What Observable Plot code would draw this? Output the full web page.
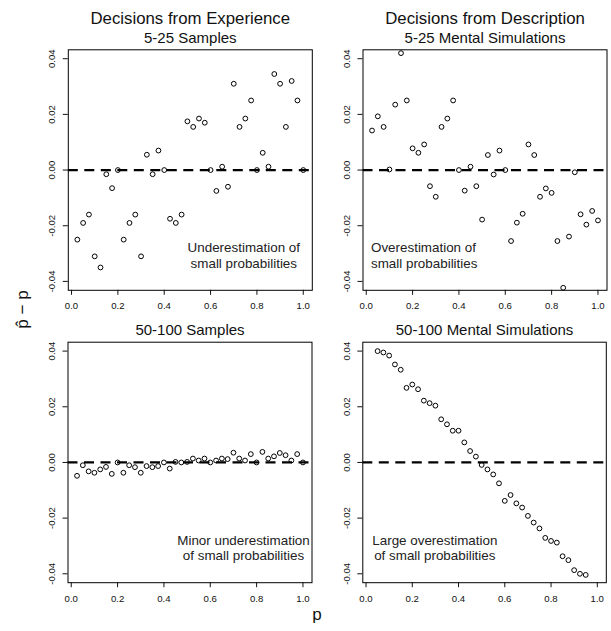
<!DOCTYPE html>
<html><head><meta charset="utf-8">
<script src="https://cdn.jsdelivr.net/npm/d3@7"></script>
<script src="https://cdn.jsdelivr.net/npm/@observablehq/plot@0.6"></script>
<style>
body{margin:0;background:#fff;}
#chart{position:relative;width:611px;height:631px;font-family:"Liberation Sans",Arial,sans-serif;color:#111;overflow:hidden;}
.panel{position:absolute;}
.panel svg{overflow:visible;}
.lab{position:absolute;font-size:17px;line-height:17px;height:17px;text-align:center;white-space:nowrap;}
</style></head><body><div id="chart"></div>
<script>
// probabilities (x values)
const pAll = [0.025,0.05,0.075,0.1,0.125,0.15,0.175,0.2,0.225,0.25,0.275,0.3,0.325,0.35,0.375,0.4,0.425,0.45,0.475,0.5,0.525,0.55,0.575,0.6,0.625,0.65,0.675,0.7,0.725,0.75,0.775,0.8,0.825,0.85,0.875,0.9,0.925,0.95,0.975,1.0];
const pMid = [0.05,0.075,0.1,0.125,0.15,0.175,0.2,0.225,0.25,0.275,0.3,0.325,0.35,0.375,0.4,0.425,0.45,0.475,0.5,0.525,0.55,0.575,0.6,0.625,0.65,0.675,0.7,0.725,0.75,0.775,0.8,0.825,0.85,0.875,0.9,0.925,0.95];
// estimated p-hat minus p
const expSmall = [-0.025,-0.019,-0.016,-0.031,-0.035,-0.0015,-0.0065,0,-0.025,-0.019,-0.016,-0.031,0.0055,-0.0015,0.007,0,-0.0175,-0.019,-0.016,0.0175,0.0155,0.0185,0.017,0,-0.0075,0.0012,-0.006,0.031,0.0155,0.0185,0.025,0,0.0062,0.0012,0.0345,0.031,0.0155,0.032,0.025,0];
const descSmall = [0.0142,0.0193,0.0155,0.0002,0.0235,0.042,0.025,0.0078,0.0062,0.0092,-0.0058,-0.0096,0.0155,0.0185,0.025,0,-0.0074,0.0012,-0.0058,-0.0178,0.0054,-0.0016,0.007,0,-0.0255,-0.0189,-0.0157,0.0092,0.0054,-0.0096,-0.0066,-0.0082,-0.0255,-0.0423,-0.0239,-0.0008,-0.0159,-0.0196,-0.0147,-0.0181];
const expLarge = [-0.0048,-0.001,-0.0032,-0.0037,-0.0025,-0.0016,-0.0041,0,-0.0037,-0.001,-0.0017,-0.0037,-0.0013,-0.0017,-0.0013,0,-0.0022,0.0002,0,0.0002,0.0014,0.0007,0.0014,0,0.0007,0.0014,0.0012,0.0035,0.0014,0.0007,0.003,0,0.0038,0.0014,0.0022,0.0034,0.0026,0.0007,0.003,0];
const descLarge = [0.04,0.0395,0.0384,0.0352,0.0333,0.0268,0.028,0.0263,0.0222,0.0213,0.0204,0.0155,0.0137,0.0114,0.0114,0.0072,0.0041,0.0021,-0.0009,-0.0025,-0.0043,-0.0075,-0.0138,-0.0117,-0.0147,-0.0162,-0.0192,-0.0216,-0.0237,-0.0271,-0.0282,-0.0288,-0.0337,-0.0351,-0.0387,-0.04,-0.0404];
// ticks and labels
const xTicks = [0,0.2,0.4,0.6,0.8,1.0];
const xTickLabels = ["0.0","0.2","0.4","0.6","0.8","1.0"];
const yTicks = [-0.04,-0.02,0,0.02,0.04];
const yTickLabels = ["-0.04","-0.02","0.00","0.02","0.04"];
const titles = ["Decisions from Experience","Decisions from Description"];
const subtitles = ["5-25 Samples","5-25 Mental Simulations","50-100 Samples","50-100 Mental Simulations"];
const notes = ["Underestimation of\nsmall probabilities","Overestimation of\nsmall probabilities","Minor underestimation\nof small probabilities","Large overestimation\nof small probabilities"];
const xLabel = "p";
const yLabel = "p\u0302 \u2212 p";

const chart = document.getElementById("chart");
const FONT = "'Liberation Sans', Arial, sans-serif";

function panel(cfg){
  const data = cfg.p.map((x,i)=>({p:x, d:cfg.v[i]}));
  const marks = [
    Plot.ruleY([0], {stroke:"#000", strokeWidth:2.3, strokeDasharray:"10,6.5"}),
    Plot.dot(data, {x:"p", y:"d", r:2.4, stroke:"#000", strokeWidth:1, fill:"none"}),
    Plot.frame({stroke:"#000", strokeWidth:1}),
    Plot.axisX({ticks:xTicks, tickFormat:d=>xTickLabels[xTicks.indexOf(d)], tickSize:5, tickPadding:7, fontSize:9.6, label:null}),
    Plot.axisY({ticks:yTicks, tickFormat:d=>yTickLabels[yTicks.indexOf(d)], tickSize:5, tickPadding:8, tickRotate:-90, textAnchor:"middle", lineAnchor:"bottom", fontSize:9.6, label:null}),
    Plot.text([cfg.subtitle], {text:d=>d, frameAnchor:"top", dy:-6.8, lineAnchor:"bottom", fontSize:15}),
    Plot.text([cfg.note], {text:d=>d, frameAnchor:cfg.noteAnchor, dx:cfg.noteDx, dy:-22.5, textAnchor:cfg.noteAlign, lineAnchor:"bottom", lineHeight:1.15, fontSize:13.4, fill:"#222"})
  ];
  if (cfg.title) marks.push(Plot.text([cfg.title], {text:d=>d, frameAnchor:"top", dy:-26.3, lineAnchor:"bottom", fontSize:16.8}));
  const svg = Plot.plot({
    width: cfg.w, height: cfg.h,
    marginLeft: cfg.ml, marginRight: cfg.mr, marginTop: cfg.mt, marginBottom: cfg.mb,
    x: {domain:[-0.014, 1.039]},
    y: {domain:[-0.0432, 0.0432]},
    style: {fontFamily: FONT, fontSize:"9.6px", color:"#111", background:"transparent", overflow:"visible"},
    marks
  });
  const div = document.createElement("div");
  div.className = "panel";
  div.style.left = cfg.left + "px";
  div.style.top = cfg.top + "px";
  div.appendChild(svg);
  chart.appendChild(div);
}

panel({left:0, top:0, w:337, h:316, ml:67.8, mr:25.2, mt:49.3, mb:26.2, p:pAll, v:expSmall, title:titles[0], subtitle:subtitles[0], note:notes[0], noteAnchor:"bottom-right", noteDx:-68.5, noteAlign:"middle"});
panel({left:337, top:0, w:274, h:316, ml:25.5, mr:4.5, mt:49.3, mb:26.2, p:pAll, v:descSmall, title:titles[1], subtitle:subtitles[1], note:notes[1], noteAnchor:"bottom-left", noteDx:8, noteAlign:"start"});
panel({left:0, top:316, w:337, h:315, ml:67.5, mr:25.5, mt:25.7, mb:48.8, p:pAll, v:expLarge, subtitle:subtitles[2], note:notes[2], noteAnchor:"bottom-right", noteDx:-68.5, noteAlign:"middle"});
panel({left:337, top:316, w:274, h:315, ml:25.3, mr:5.2, mt:25.7, mb:48.8, p:pMid, v:descLarge, subtitle:subtitles[3], note:notes[3], noteAnchor:"bottom-left", noteDx:72, noteAlign:"middle"});

const yl = document.createElement("div");
yl.className = "lab";
yl.textContent = yLabel;
yl.style.width = "80px";
yl.style.left = (22.4 - 40) + "px";
yl.style.top = (309 - 8.5) + "px";
yl.style.transform = "rotate(-90deg)";
chart.appendChild(yl);

const xl = document.createElement("div");
xl.className = "lab";
xl.textContent = xLabel;
xl.style.width = "40px";
xl.style.left = (317 - 20) + "px";
xl.style.top = (620.8 - 14.4) + "px";
chart.appendChild(xl);
</script></body></html>
